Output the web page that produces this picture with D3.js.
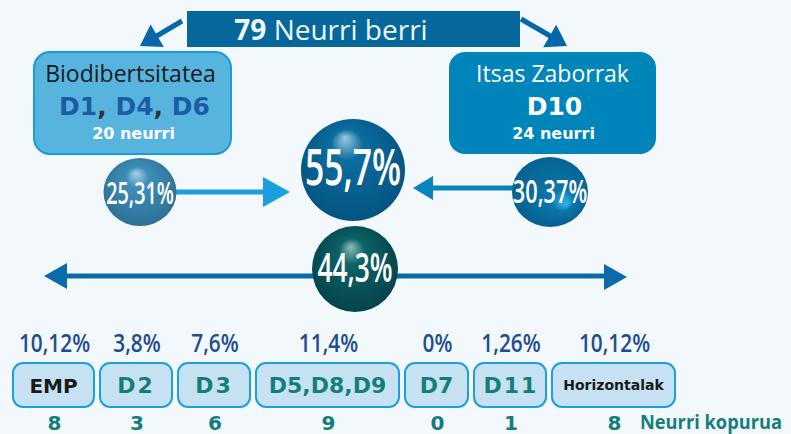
<!DOCTYPE html>
<html>
<head>
<meta charset="utf-8">
<script src="https://cdn.jsdelivr.net/npm/d3@7"></script>
<style>
  html, body { margin: 0; padding: 0; background: #f3f8fc; }
  svg { display: block; }
</style>
</head>
<body>
<div id="chart"></div>
<script>
// data
var totalMeasures = 79;
var topicNames = ["Biodibertsitatea", "Itsas Zaborrak"];
var topicCodes = ["D1, D4, D6", "D10"];
var topicCounts = [20, 24];
var sphereLabels = ["25,31%", "55,7%", "30,37%", "44,3%"];
var sphereValues = [25.31, 55.7, 30.37, 44.3];
var groups = ["EMP", "D2", "D3", "D5,D8,D9", "D7", "D11", "Horizontalak"];
var groupPct = [10.12, 3.8, 7.6, 11.4, 0, 1.26, 10.12];
var groupCount = [8, 3, 6, 9, 0, 1, 8];

// layout only
var width = 791, height = 434;
var boxW = [81, 72, 72, 143, 63, 72, 123];
var boxGap = 6;
var openS = "'Open Sans', sans-serif";
var sansB = "'DejaVu Sans', Verdana, sans-serif";

var svg = d3.select("#chart").append("svg")
    .attr("width", width)
    .attr("height", height);

var defs = svg.append("defs");

svg.append("rect").attr("width", width).attr("height", height).attr("fill", "#f3f8fc");

// arrow head helper
function arrowHead(g, x, y, dir, len, half, color) {
  var bx = x - Math.cos(dir) * len, by = y - Math.sin(dir) * len;
  var px = -Math.sin(dir) * half, py = Math.cos(dir) * half;
  g.append("path")
    .attr("d", "M" + x + "," + y + "L" + (bx + px) + "," + (by + py) + "L" + (bx - px) + "," + (by - py) + "Z")
    .attr("fill", color);
}

// narrow text (no condensed face installed, so squeeze it)
function narrowText(g, x, y, size, sx, color, txt) {
  return g.append("text")
    .attr("transform", "translate(" + x + "," + y + ") scale(" + sx + ",1)")
    .attr("text-anchor", "middle")
    .attr("fill", color)
    .style("font-family", openS)
    .style("font-weight", 600)
    .style("font-size", size + "px")
    .text(txt);
}

// ---- title bar
var title = svg.append("g");
title.append("rect")
    .attr("x", 187).attr("y", 11).attr("width", 333).attr("height", 36)
    .attr("fill", "#05679a");
var tt = title.append("text")
    .attr("x", 331).attr("y", 40)
    .attr("text-anchor", "middle")
    .attr("fill", "#eef6fb")
    .style("font-family", openS)
    .style("font-size", "28px");
tt.append("tspan").attr("font-weight", "bold").text(totalMeasures);
tt.append("tspan").text(" Neurri berri");

// arrows from the title
var ta = svg.append("g");
ta.append("line").attr("x1", 182).attr("y1", 21).attr("x2", 155).attr("y2", 37)
  .attr("stroke", "#0567a9").attr("stroke-width", 5);
arrowHead(ta, 140, 46, Math.atan2(16, -27), 20, 13, "#0567a9");
ta.append("line").attr("x1", 521).attr("y1", 19).attr("x2", 552).attr("y2", 37)
  .attr("stroke", "#0567a9").attr("stroke-width", 5);
arrowHead(ta, 567, 46, Math.atan2(18, 31), 20, 13, "#0567a9");

// ---- topic boxes
var topicBox = [
  {x: 34, y: 52, w: 197, h: 102, fill: "#56b4de", stroke: "#1a9ad6", name: "#1a1a1a", code: "#1d5ca4", count: "#ffffff"},
  {x: 449, y: 52, w: 207, h: 102, fill: "#0085bb", stroke: "none", name: "#ffffff", code: "#ffffff", count: "#ffffff"}
];
topicBox.forEach(function(b, i) {
  var g = svg.append("g");
  g.append("rect")
    .attr("x", b.x).attr("y", b.y).attr("width", b.w).attr("height", b.h)
    .attr("rx", 16)
    .attr("fill", b.fill)
    .attr("stroke", b.stroke).attr("stroke-width", 2);
  var cx = b.x + b.w / 2;
  g.append("text").attr("x", cx - (i === 0 ? 2 : 0)).attr("y", 82).attr("text-anchor", "middle")
    .attr("fill", b.name)
    .style("font-family", openS).style("font-size", "23px")
    .text(topicNames[i]);
  var code = g.append("text").attr("x", cx + 2).attr("y", 115).attr("text-anchor", "middle")
    .attr("fill", b.code)
    .style("font-family", sansB).style("font-weight", "bold").style("font-size", "25px");
  topicCodes[i].split(", ").forEach(function(c, j) {
    if (j > 0) code.append("tspan").attr("fill", "#333").text(", ");
    code.append("tspan").text(c);
  });
  g.append("text").attr("x", cx + 1).attr("y", 139).attr("text-anchor", "middle")
    .attr("fill", b.count)
    .style("font-family", sansB).style("font-weight", "bold").style("font-size", "16px")
    .text(topicCounts[i] + " neurri");
});

// ---- spheres
var sphereLayout = [
  {cx: 140, cy: 192, rx: 36.5, ry: 34, c0: "#a9d3e8", c1: "#3c8fb8", c2: "#2f7096", hx: "45%", hy: "22%", fs: 30, sx: 0.66, by: 204},
  {cx: 353, cy: 170, rx: 52, ry: 51, c0: "#9cc9e0", c1: "#0a6d9e", c2: "#055482", hx: "42%", hy: "18%", fs: 51, sx: 0.66, by: 185},
  {cx: 550, cy: 192, rx: 38, ry: 35, c0: "#35b6ee", c1: "#0a76a8", c2: "#065f8e", hx: "72%", hy: "68%", fs: 32, sx: 0.68, by: 203},
  {cx: 355, cy: 269, rx: 43, ry: 43, c0: "#8fbdbd", c1: "#0b6267", c2: "#06434a", hx: "45%", hy: "24%", fs: 40, sx: 0.66, by: 282}
];

// connecting arrows first (behind spheres)
var arr = svg.append("g");
arr.append("line").attr("x1", 176).attr("y1", 192).attr("x2", 266).attr("y2", 192)
  .attr("stroke", "#1a9ee0").attr("stroke-width", 5);
arrowHead(arr, 290, 192, 0, 27, 15, "#1a9ee0");
arr.append("line").attr("x1", 513).attr("y1", 188).attr("x2", 430).attr("y2", 188)
  .attr("stroke", "#0a84bd").attr("stroke-width", 5);
arrowHead(arr, 413, 188, Math.PI, 20, 12, "#0a84bd");
arr.append("line").attr("x1", 64).attr("y1", 276).attr("x2", 607).attr("y2", 276)
  .attr("stroke", "#0a6aaa").attr("stroke-width", 5);
arrowHead(arr, 44, 276, Math.PI, 23, 13, "#0a6aaa");
arrowHead(arr, 627, 277, 0, 23, 13, "#0a6aaa");

var sp = svg.append("g").selectAll("g")
  .data(sphereValues)
  .join("g");

sp.each(function(v, i) {
  var L = sphereLayout[i];
  var gid = "sg" + i;
  var grad = defs.append("radialGradient").attr("id", gid)
    .attr("cx", "50%").attr("cy", "45%").attr("r", "55%")
    .attr("fx", L.hx).attr("fy", L.hy);
  grad.append("stop").attr("offset", "0%").attr("stop-color", L.c0);
  grad.append("stop").attr("offset", "28%").attr("stop-color", L.c1);
  grad.append("stop").attr("offset", "100%").attr("stop-color", L.c2);
  var g = d3.select(this);
  g.append("ellipse")
    .attr("cx", L.cx).attr("cy", L.cy).attr("rx", L.rx).attr("ry", L.ry)
    .attr("fill", "url(#" + gid + ")");
  narrowText(g, L.cx, L.by, L.fs, L.sx, "#ffffff", sphereLabels[i]);
});

// ---- bottom row of groups
var starts = [];
var acc = 13;
boxW.forEach(function(w) { starts.push(acc); acc += w + boxGap; });
var x = d3.scaleOrdinal().domain(groups).range(starts);
var fmt = function(v) { return String(v).replace(".", ",") + "%"; };
var mid = function(d, i) { return x(d) + boxW[i] / 2; };

var row = svg.append("g").selectAll("g")
  .data(groups)
  .join("g");

row.append("rect")
  .attr("x", function(d) { return x(d); })
  .attr("y", 363)
  .attr("width", function(d, i) { return boxW[i]; })
  .attr("height", 44)
  .attr("rx", 10)
  .attr("fill", "#c6e2f2")
  .attr("stroke", "#1ba0dd")
  .attr("stroke-width", 2);

row.append("text")
  .attr("x", function(d, i) { return mid(d, i) + (d === "D11" ? 1 : 0); })
  .attr("y", function(d) { return d === "Horizontalak" ? 390 : 393; })
  .attr("text-anchor", "middle")
  .attr("fill", function(d) { return (d === "EMP" || d === "Horizontalak") ? "#1a1a1a" : "#157e7b"; })
  .style("font-family", sansB)
  .style("font-weight", "bold")
  .style("letter-spacing", function(d) { return (d === "D2" || d === "D3" || d === "D11") ? "2px" : "0px"; })
  .style("font-size", function(d) { return d === "Horizontalak" ? "14px" : (d === "EMP" ? "20px" : "22px"); })
  .text(function(d) { return d; });

row.each(function(d, i) {
  narrowText(d3.select(this), mid(d, i) + 1, 352, 26, 0.8, "#1f4e8f", fmt(groupPct[i]));
});

row.append("text")
  .attr("x", function(d, i) { return mid(d, i) + 1; })
  .attr("y", 430)
  .attr("text-anchor", "middle")
  .attr("fill", "#157e7b")
  .style("font-family", sansB)
  .style("font-weight", "bold")
  .style("font-size", "20px")
  .text(function(d, i) { return groupCount[i]; });

svg.append("text")
  .attr("x", 640).attr("y", 429)
  .attr("fill", "#157e7b")
  .style("font-family", openS)
  .style("font-weight", "bold")
  .style("font-size", "19px")
  .attr("textLength", 142)
  .attr("lengthAdjust", "spacingAndGlyphs")
  .text("Neurri kopurua");
</script>
</body>
</html>
